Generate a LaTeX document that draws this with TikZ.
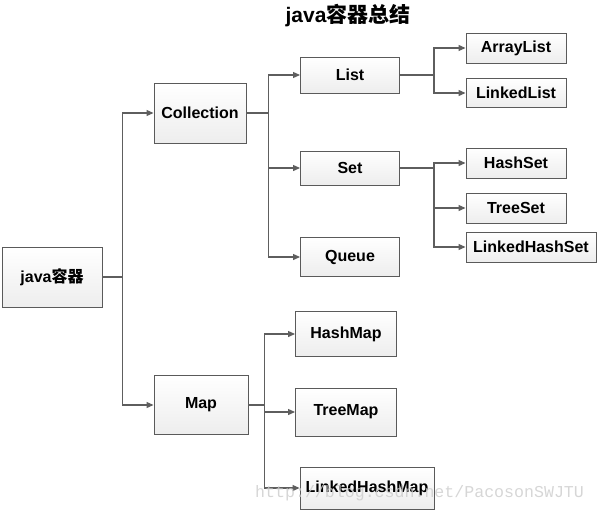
\documentclass[tikz,border=0pt]{standalone}
\usepackage{fontspec}
\setmainfont{Liberation Sans}
\newfontfamily\cjkfont{Noto Sans CJK SC}
\newfontfamily\wmfont{Liberation Mono}
\usepackage{tikz}
\usetikzlibrary{arrows.meta}
\definecolor{boxgray}{HTML}{5A5A5A}
\definecolor{lineg}{HTML}{5E5E5E}

\begin{document}
\begin{tikzpicture}[x=1pt, y=-1pt,
    box/.style={draw=boxgray, line width=0.9pt, top color=white, bottom color=gray!14,
      font=\bfseries\fontsize{16}{18}\selectfont, inner sep=0pt},
    ln/.style={draw=lineg, line width=1.1pt},
    arr/.style={ln, -{Triangle[length=7pt,width=6pt]}}]
    \useasboundingbox (0,0) rectangle (597,511);
    % Title
    \node[font=\bfseries\fontsize{21}{24}\selectfont] (title) at (348,16) {java{\cjkfont 容器总结}};
    % Boxes: name/x/y/width/height/label
    \foreach \n/\x/\y/\w/\h/\t in {java/52/277/100/60/{java{\cjkfont 容器}},
        coll/200/113/92/60/Collection, map/201/405/94/59/Map,
        list/350/75/99/36/List, set/350/168/99/34/Set, queue/350/257/99/39/Queue,
        al/516/48/100/30/ArrayList, ll/516/93/100/29/LinkedList,
        hs/516/163/100/30/HashSet, ts/516/208/100/30/TreeSet, lhs/531/247/130/30/LinkedHashSet,
        hm/346/334/101/45/HashMap, tm/346/412/101/48/TreeMap, lhm/367/488/134/42/LinkedHashMap}
      {\node[box, minimum width=\w pt, minimum height=\h pt] (\n) at (\x,\y) {\t};}
    % java -> Collection, Map
    \draw[ln] (java.east) -- ++(20,0) coordinate (jt);
    \foreach \c in {coll,map} {\draw[arr] (jt) |- (\c.west);}
    % Collection -> List, Set, Queue
    \draw[ln] (coll.east) -- ++(22,0) coordinate (ct);
    \foreach \c in {list,set,queue} {\draw[arr] (ct) |- (\c.west);}
    % List -> ArrayList, LinkedList
    \draw[ln] (list.east) -- ++(34,0) coordinate (lt);
    \foreach \c in {al,ll} {\draw[arr] (lt) |- (\c.west);}
    % Set -> HashSet, TreeSet, LinkedHashSet
    \draw[ln] (set.east) -- ++(34,0) coordinate (st);
    \foreach \c in {hs,ts,lhs} {\draw[arr] (st) |- (\c.west);}
    % Map -> HashMap, TreeMap, LinkedHashMap
    \draw[ln] (map.east) -- ++(16,0) coordinate (mt);
    \foreach \c in {hm,tm,lhm} {\draw[arr] (mt) |- (\c.west);}
    % Watermark
    \node[font=\wmfont\fontsize{16.6}{20}\selectfont, text=gray!40, opacity=0.8,
      anchor=base west, inner sep=0pt] (mark) at (255,497) {http://blog.csdn.net/PacosonSWJTU};
\end{tikzpicture}
\end{document}
